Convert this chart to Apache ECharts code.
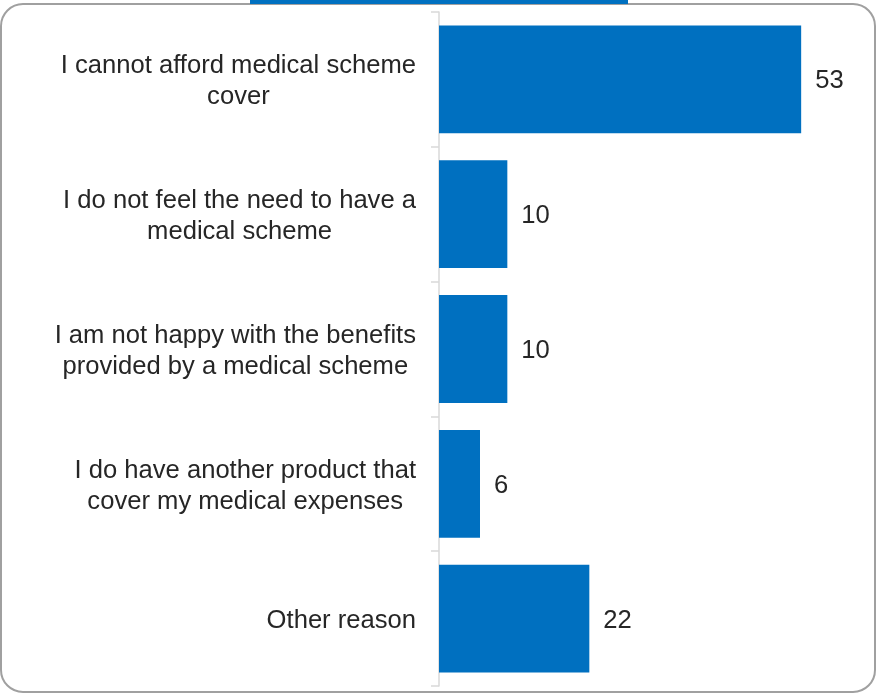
<!DOCTYPE html>
<html>
<head>
<meta charset="utf-8">
<script src="https://cdn.jsdelivr.net/npm/echarts@6/dist/echarts.min.js"></script>
<style>html,body{margin:0;padding:0;background:#fff;}#c{width:879px;height:696px;}</style>
</head>
<body>
<div id="c"></div>
<script>
var categories = [
  "I cannot afford medical scheme\ncover",
  "I do not feel the need to have a\nmedical scheme",
  "I am not happy with the benefits\nprovided by a medical scheme",
  "I do have another product that\ncover my medical expenses",
  "Other reason"
];
var values = [53, 10, 10, 6, 22];

var chart = echarts.init(document.getElementById('c'));
chart.setOption({
  animation: false,
  backgroundColor: '#ffffff',
  textStyle: { fontFamily: 'Liberation Sans, Arial, sans-serif' },
  graphic: [
    { type: 'rect', shape: { x: 1, y: 4, width: 874, height: 688, r: 22 },
      style: { fill: 'none', stroke: '#a0a0a0', lineWidth: 2 }, z: 0 },
    { type: 'rect', shape: { x: 250, y: 0, width: 378, height: 4 },
      style: { fill: '#0070C0' }, z: 1 }
  ],
  grid: { left: 439, right: 30, top: 12, bottom: 10, containLabel: false },
  xAxis: { type: 'value', min: 0, max: 60, show: false },
  yAxis: {
    type: 'category',
    inverse: true,
    data: categories,
    axisLine: { show: true, lineStyle: { color: '#d9d9d9', width: 1.5 } },
    axisTick: { show: true, length: 8, lineStyle: { color: '#d9d9d9', width: 1.5 } },
    axisLabel: {
      margin: 23,
      align: 'right',
      padding: [5, 0, 0, 0],
      formatter: function (v) {
        return v.split('\n').map(function (l) { return '{c|' + l + '}'; }).join('\n');
      },
      rich: {
        c: { align: 'center', fontSize: 25.6, lineHeight: 31, color: '#262626',
             fontFamily: 'Liberation Sans, Arial, sans-serif' }
      }
    }
  },
  series: [{
    type: 'bar',
    data: values,
    barCategoryGap: '20%',
    itemStyle: { color: '#0070C0' },
    label: {
      show: true, position: 'right', distance: 14, offset: [0, 2],
      fontSize: 25.6, color: '#262626', fontFamily: 'Liberation Sans, Arial, sans-serif'
    }
  }]
});
</script>
</body>
</html>
